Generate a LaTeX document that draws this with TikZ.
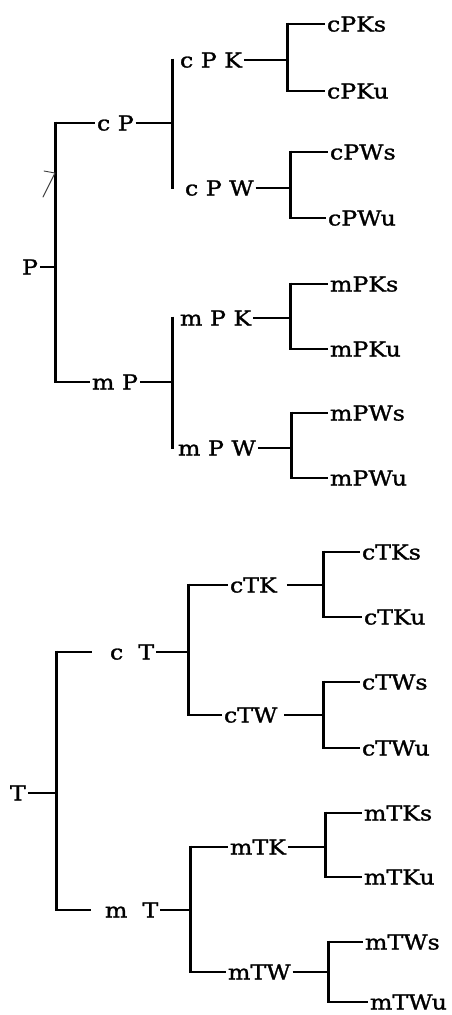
\documentclass[tikz,border=0pt]{standalone}
\usepackage{fontspec}
\newfontfamily\labfont{DejaVu Serif}[FakeBold=1.2]
\newcommand\wide[1]{\scalebox{1.15}[1]{#1}}
\tikzset{
  lab/.style={inner sep=0pt, outer xsep=2pt, text height=15pt, text depth=0pt,
              font=\labfont\fontsize{20.6}{24}\selectfont, anchor=west},
  bar/.style={line width=3pt, shorten <=-1.4pt, shorten >=-1.4pt},
  link/.style={line width=1.8pt},
  pencil/.style={line width=0.9pt, black!75, line cap=round, line join=round}
}
\begin{document}
\begin{tikzpicture}[x=1pt,y=-1pt]
\useasboundingbox (0,0) rectangle (452,1015);
\fill[white] (0,0) rectangle (452,1015);

% ---------- P tree ----------
\node[lab] (P)    at (20,267)  {\wide{P}};
\node[lab] (cP)   at (95,123)  {\wide{c P}};
\node[lab] (mP)   at (90,382)  {\wide{m P}};
\node[lab] (cPK)  at (178,60)  {\wide{c P K}};
\node[lab] (cPW)  at (183,188) {\wide{c P W}};
\node[lab] (mPK)  at (178,318) {\wide{m P K}};
\node[lab] (mPW)  at (176,448) {\wide{m P W}};
\node[lab] (cPKs) at (325,24)  {\wide{cPKs}};
\node[lab] (cPKu) at (325,91)  {\wide{cPKu}};
\node[lab] (cPWs) at (328,152) {\wide{cPWs}};
\node[lab] (cPWu) at (326,218) {\wide{cPWu}};
\node[lab] (mPKs) at (328,284) {\wide{mPKs}};
\node[lab] (mPKu) at (328,349) {\wide{mPKu}};
\node[lab] (mPWs) at (328,413) {\wide{mPWs}};
\node[lab] (mPWu) at (328,478) {\wide{mPWu}};

\coordinate (kP)   at (55,0);
\coordinate (kcP)  at (172,0);
\coordinate (kmP)  at (172,0);
\coordinate (kcPK) at (287,0);
\coordinate (kcPW) at (290,0);
\coordinate (kmPK) at (290,0);
\coordinate (kmPW) at (291,0);

% P
\draw[bar]  (kP |- cP.west) -- (kP |- mP.west);
\draw[link] (P.east) -- (kP |- P.east);
\draw[link] (kP |- cP.west) -- (cP.west);
\draw[link] (kP |- mP.west) -- (mP.west);
% cP
\draw[bar]  (kcP |- cPK.west) -- (kcP |- cPW.west);
\draw[link] (cP.east) -- (kcP |- cP.east);
% mP
\draw[bar]  (kmP |- mPK.west) -- (kmP |- mPW.west);
\draw[link] (mP.east) -- (kmP |- mP.east);
% cPK
\draw[bar]  (kcPK |- cPKs.west) -- (kcPK |- cPKu.west);
\draw[link] (cPK.east) -- (kcPK |- cPK.east);
\draw[link] (kcPK |- cPKs.west) -- (cPKs.west);
\draw[link] (kcPK |- cPKu.west) -- (cPKu.west);
% cPW
\draw[bar]  (kcPW |- cPWs.west) -- (kcPW |- cPWu.west);
\draw[link] (cPW.east) -- (kcPW |- cPW.east);
\draw[link] (kcPW |- cPWs.west) -- (cPWs.west);
\draw[link] (kcPW |- cPWu.west) -- (cPWu.west);
% mPK
\draw[bar]  (kmPK |- mPKs.west) -- (kmPK |- mPKu.west);
\draw[link] (mPK.east) -- (kmPK |- mPK.east);
\draw[link] (kmPK |- mPKs.west) -- (mPKs.west);
\draw[link] (kmPK |- mPKu.west) -- (mPKu.west);
% mPW
\draw[bar]  (kmPW |- mPWs.west) -- (kmPW |- mPWu.west);
\draw[link] (mPW.east) -- (kmPW |- mPW.east);
\draw[link] (kmPW |- mPWs.west) -- (mPWs.west);
\draw[link] (kmPW |- mPWu.west) -- (mPWu.west);

% pencil mark
\draw[pencil] (44,171) -- (55,173) -- (43,197);

% ---------- T tree ----------
\node[lab] (T)    at (8,793)   {\wide{T}};
\node[lab] (cT)   at (108,652) {\wide{c\ \ T}};
\node[lab] (mT)   at (103,910) {\wide{m\ \ T}};
\node[lab] (cTK)  at (228,585) {\wide{cTK}};
\node[lab] (cTW)  at (222,715) {\wide{cTW}};
\node[lab] (mTK)  at (228,847) {\wide{mTK}};
\node[lab] (mTW)  at (226,972) {\wide{mTW}};
\node[lab] (cTKs) at (360,552) {\wide{cTKs}};
\node[lab] (cTKu) at (362,617) {\wide{cTKu}};
\node[lab] (cTWs) at (360,682) {\wide{cTWs}};
\node[lab] (cTWu) at (360,748) {\wide{cTWu}};
\node[lab] (mTKs) at (362,813) {\wide{mTKs}};
\node[lab] (mTKu) at (362,877) {\wide{mTKu}};
\node[lab] (mTWs) at (363,942) {\wide{mTWs}};
\node[lab] (mTWu) at (368,1002){\wide{mTWu}};

\coordinate (kT)   at (56,0);
\coordinate (kcT)  at (188,0);
\coordinate (kmT)  at (190,0);
\coordinate (kcTK) at (323,0);
\coordinate (kcTW) at (323,0);
\coordinate (kmTK) at (325,0);
\coordinate (kmTW) at (328,0);

% T
\draw[bar]  (kT |- cT.west) -- (kT |- mT.west);
\draw[link] (T.east) -- (kT |- T.east);
\draw[link, shorten >=16pt] (kT |- cT.west) -- (cT.west);
\draw[link, shorten >=12pt] (kT |- mT.west) -- (mT.west);
% cT
\draw[bar]  (kcT |- cTK.west) -- (kcT |- cTW.west);
\draw[link] (cT.east) -- (kcT |- cT.east);
\draw[link] (kcT |- cTK.west) -- (cTK.west);
\draw[link] (kcT |- cTW.west) -- (cTW.west);
% mT
\draw[bar]  (kmT |- mTK.west) -- (kmT |- mTW.west);
\draw[link] (mT.east) -- (kmT |- mT.east);
\draw[link] (kmT |- mTK.west) -- (mTK.west);
\draw[link] (kmT |- mTW.west) -- (mTW.west);
% cTK
\draw[bar]  (kcTK |- cTKs.west) -- (kcTK |- cTKu.west);
\draw[link, shorten <=8pt] (cTK.east) -- (kcTK |- cTK.east);
\draw[link] (kcTK |- cTKs.west) -- (cTKs.west);
\draw[link] (kcTK |- cTKu.west) -- (cTKu.west);
% cTW
\draw[bar]  (kcTW |- cTWs.west) -- (kcTW |- cTWu.west);
\draw[link, shorten <=5pt] (cTW.east) -- (kcTW |- cTW.east);
\draw[link] (kcTW |- cTWs.west) -- (cTWs.west);
\draw[link] (kcTW |- cTWu.west) -- (cTWu.west);
% mTK
\draw[bar]  (kmTK |- mTKs.west) -- (kmTK |- mTKu.west);
\draw[link] (mTK.east) -- (kmTK |- mTK.east);
\draw[link] (kmTK |- mTKs.west) -- (mTKs.west);
\draw[link] (kmTK |- mTKu.west) -- (mTKu.west);
% mTW
\draw[bar]  (kmTW |- mTWs.west) -- (kmTW |- mTWu.west);
\draw[link] (mTW.east) -- (kmTW |- mTW.east);
\draw[link] (kmTW |- mTWs.west) -- (mTWs.west);
\draw[link] (kmTW |- mTWu.west) -- (mTWu.west);
\end{tikzpicture}
\end{document}
